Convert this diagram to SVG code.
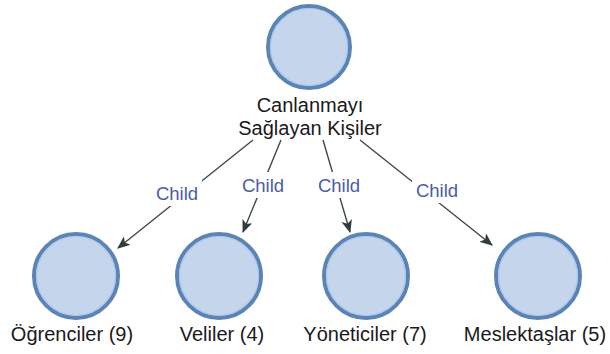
<svg xmlns="http://www.w3.org/2000/svg" width="610" height="354" viewBox="0 0 610 354">
<style>
.node{fill:#c5d5ec;stroke:#5b84b4;stroke-width:4}
.inner{fill:none;stroke:#a9c6ee;stroke-width:1.2}
.lbl{font-family:"Liberation Sans",Arial,sans-serif;font-size:20px;fill:#1a1a1a;text-anchor:middle}
.edge{stroke:#3c4a48;stroke-width:1.4;fill:none;marker-end:url(#ah)}
.el{font-family:"Liberation Sans",Arial,sans-serif;font-size:18.5px;fill:#4a5cab;text-anchor:middle}
</style>
<defs>
<marker id="ah" viewBox="0 0 12 10" refX="11" refY="5" markerWidth="13" markerHeight="11" markerUnits="userSpaceOnUse" orient="auto">
<path d="M0,0 L12,5 L0,10 L3,5 Z" fill="#2f3d3b"/>
</marker>
</defs>
<rect width="610" height="354" fill="#ffffff"/>
<g id="connectors">
<line class="edge" x1="253" y1="140" x2="118" y2="248"/>
<line class="edge" x1="281" y1="140" x2="243" y2="232"/>
<line class="edge" x1="323" y1="140" x2="350" y2="232"/>
<line class="edge" x1="360" y1="140" x2="492" y2="245"/>
<rect x="152" y="180" width="50" height="26" fill="#fff"/>
<text class="el" x="177" y="200">Child</text>
<rect x="238" y="172" width="50" height="26" fill="#fff"/>
<text class="el" x="263" y="192">Child</text>
<rect x="314" y="172" width="50" height="26" fill="#fff"/>
<text class="el" x="339" y="192">Child</text>
<rect x="412" y="177" width="50" height="26" fill="#fff"/>
<text class="el" x="437" y="197">Child</text>
</g>
<g id="root">
<circle class="node" cx="309" cy="47" r="41"/>
<circle class="inner" cx="309" cy="47" r="38.5"/>
<text class="lbl" x="310" y="112">Canlanmayı</text>
<text class="lbl" x="310" y="135">Sağlayan Kişiler</text>
</g>
<g id="ogrenciler">
<circle class="node" cx="76" cy="276" r="42"/>
<circle class="inner" cx="76" cy="276" r="39.5"/>
<text class="lbl" x="72" y="341">Öğrenciler (9)</text>
</g>
<g id="veliler">
<circle class="node" cx="219" cy="276" r="42"/>
<circle class="inner" cx="219" cy="276" r="39.5"/>
<text class="lbl" x="222" y="341">Veliler (4)</text>
</g>
<g id="yoneticiler">
<circle class="node" cx="366" cy="276" r="42"/>
<circle class="inner" cx="366" cy="276" r="39.5"/>
<text class="lbl" x="365" y="341">Yöneticiler (7)</text>
</g>
<g id="meslektaslar">
<circle class="node" cx="538" cy="276" r="42"/>
<circle class="inner" cx="538" cy="276" r="39.5"/>
<text class="lbl" x="535" y="341">Meslektaşlar (5)</text>
</g>
</svg>
